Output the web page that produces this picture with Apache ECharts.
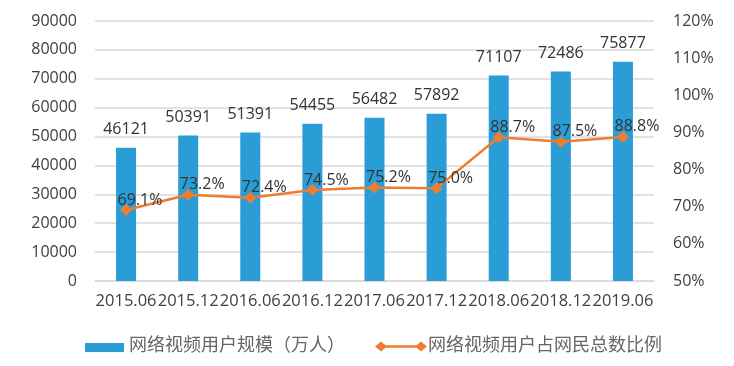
<!DOCTYPE html>
<html><head><meta charset="utf-8">
<script src="https://cdn.jsdelivr.net/npm/echarts@6/dist/echarts.min.js"></script>
<style>html,body{margin:0;padding:0;background:#fff}#c{width:734px;height:366px}</style>
</head><body><div id="c"></div>
<script>
var categories = ['2015.06','2015.12','2016.06','2016.12','2017.06','2017.12','2018.06','2018.12','2019.06'];
var users = [46121, 50391, 51391, 54455, 56482, 57892, 71107, 72486, 75877];
var ratio = [69.1, 73.2, 72.4, 74.5, 75.2, 75.0, 88.7, 87.5, 88.8];
var seriesNames = ['网络视频用户规模（万人）', '网络视频用户占网民总数比例'];

var numFont = 'Open Sans';
var barColor = '#2a9dd6', lineColor = '#ed7d31';
var legendText = {fontFamily: 'Noto Sans CJK SC', fontSize: 18, fill: '#666'};
function diamond(cx, cy) {
  return {type: 'polygon', shape: {points: [[cx - 6, cy], [cx, cy - 5], [cx + 6, cy], [cx, cy + 5]]}, style: {fill: lineColor}};
}
var chart = echarts.init(document.getElementById('c'));
chart.setOption({
  animation: false,
  grid: {left: 95, right: 80, top: 21, bottom: 85},
  graphic: [
    {type: 'rect', shape: {x: 85, y: 343, width: 39, height: 9}, style: {fill: barColor}},
    {type: 'text', left: 129, top: 335, style: Object.assign({text: seriesNames[0]}, legendText)},
    {type: 'line', shape: {x1: 381, y1: 346.5, x2: 421, y2: 346.5}, style: {stroke: lineColor, lineWidth: 2.5}},
    diamond(381, 346.5), diamond(421, 346.5),
    {type: 'text', left: 428, top: 335, style: Object.assign({text: seriesNames[1]}, legendText)}
  ],
  xAxis: {
    type: 'category', data: categories,
    axisLine: {lineStyle: {color: '#d9d9d9', width: 1.5}},
    axisTick: {show: false},
    axisLabel: {interval: 0, margin: 12, fontFamily: numFont, fontSize: 16.5, color: '#404040'}
  },
  yAxis: [{
    type: 'value', min: 0, max: 90000, interval: 10000,
    axisLine: {show: false}, axisTick: {show: false},
    splitLine: {lineStyle: {color: '#d9d9d9', width: 1.5}},
    axisLabel: {margin: 18, fontFamily: numFont, fontSize: 16, color: '#404040', formatter: function (v) { return String(v); }}
  }, {
    type: 'value', min: 50, max: 120, interval: 10,
    axisLine: {show: false}, axisTick: {show: false},
    splitLine: {show: false},
    axisLabel: {margin: 19, fontFamily: numFont, fontSize: 16, color: '#404040', formatter: '{value}%'}
  }],
  series: [{
    name: seriesNames[0], type: 'bar', data: users, barWidth: 20,
    itemStyle: {color: barColor},
    label: {show: true, position: 'top', distance: 10, fontFamily: numFont, fontSize: 16, color: '#333'}
  }, {
    name: seriesNames[1], type: 'line', yAxisIndex: 1, data: ratio,
    symbol: 'diamond', symbolSize: 12,
    lineStyle: {color: lineColor, width: 2.5},
    itemStyle: {color: lineColor},
    label: {show: true, position: 'top', distance: 4, offset: [14, 8], fontFamily: numFont, fontSize: 16, color: '#333',
      formatter: function (p) { return p.value.toFixed(1) + '%'; }}
  }]
});
</script></body></html>
